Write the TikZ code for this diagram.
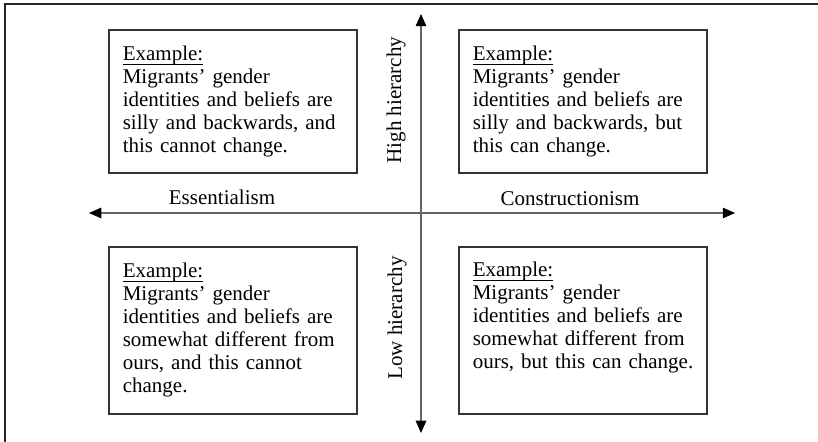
\documentclass[tikz,border=0pt]{standalone}
\usepackage{fontspec}
\setmainfont{Liberation Serif}
\usetikzlibrary{arrows.meta,positioning}
\newcommand\exhead[1]{\setbox0\hbox{#1}\rlap{\rule[-2.5pt]{\wd0}{0.55pt}}\box0}
\tikzset{
    frame/.style = {draw=black!85,
                    line width=1.1pt},
    quad/.style =  {rectangle,
                    draw=black!80,
                    line width=0.9pt,
                    anchor=north west,
                    align=left,
                    text width=125.7pt,
                    inner xsep=8pt,
                    inner ysep=0pt,
                    font=\fontsize{12}{13.1}\selectfont},
    axis/.style =  {draw=black!60,
                    line width=0.7pt,
                    {Triangle[length=7pt,width=6pt,color=black]}-{Triangle[length=7pt,width=6pt,color=black]}},
    tag/.style =   {font=\fontsize{12}{13.1}\selectfont,
                    inner sep=0pt},
    -,
    node distance=1cm}

\begin{document}
\begin{tikzpicture}[x=0.5714pt,y=-0.5714pt]
    \useasboundingbox (0,0) rectangle (818,442);
    % frame, cut at right and bottom
    \coordinate (fr0) at (5,4);
    \draw[frame] (5,442) -- (fr0) -- (818,4);

    % axes
    \coordinate (top)   at (421,14);
    \coordinate (bot)   at (421,433);
    \coordinate (west)  at (89,213);
    \coordinate (east)  at (735,213);
    \path[axis] (west) -- (east);
    \path[axis] (top) -- (bot);

    % quadrants
    \node[quad, minimum height=81.7pt]  (TL) at (108,29)
        {\exhead{Example:}\\Migrants’ gender\\identities and beliefs are\\silly and backwards, and\\this cannot change.};
    \node[quad, minimum height=81.7pt]  (TR) at (458,29)
        {\exhead{Example:}\\Migrants’ gender\\identities and beliefs are\\silly and backwards, but\\this can change.};
    \node[quad, minimum height=95.4pt] (BL) at (108,246)
        {\exhead{Example:}\\Migrants’ gender\\identities and beliefs are\\somewhat different from\\ours, and this cannot\\change.};
    \node[quad, minimum height=95.4pt] (BR) at (458,246)
        {\exhead{Example:}\\Migrants’ gender\\identities and beliefs are\\somewhat different from\\\mbox{ours, but this can change.}\\\strut};

    % axis labels
    \node[tag]            (ess)  at (222,197) {Essentialism};
    \node[tag]            (con)  at (570,199) {Constructionism};
    \node[tag, rotate=90] (high) at (396,100) {High hierarchy};
    \node[tag, rotate=90] (low)  at (397,318) {Low hierarchy};
\end{tikzpicture}
\end{document}
